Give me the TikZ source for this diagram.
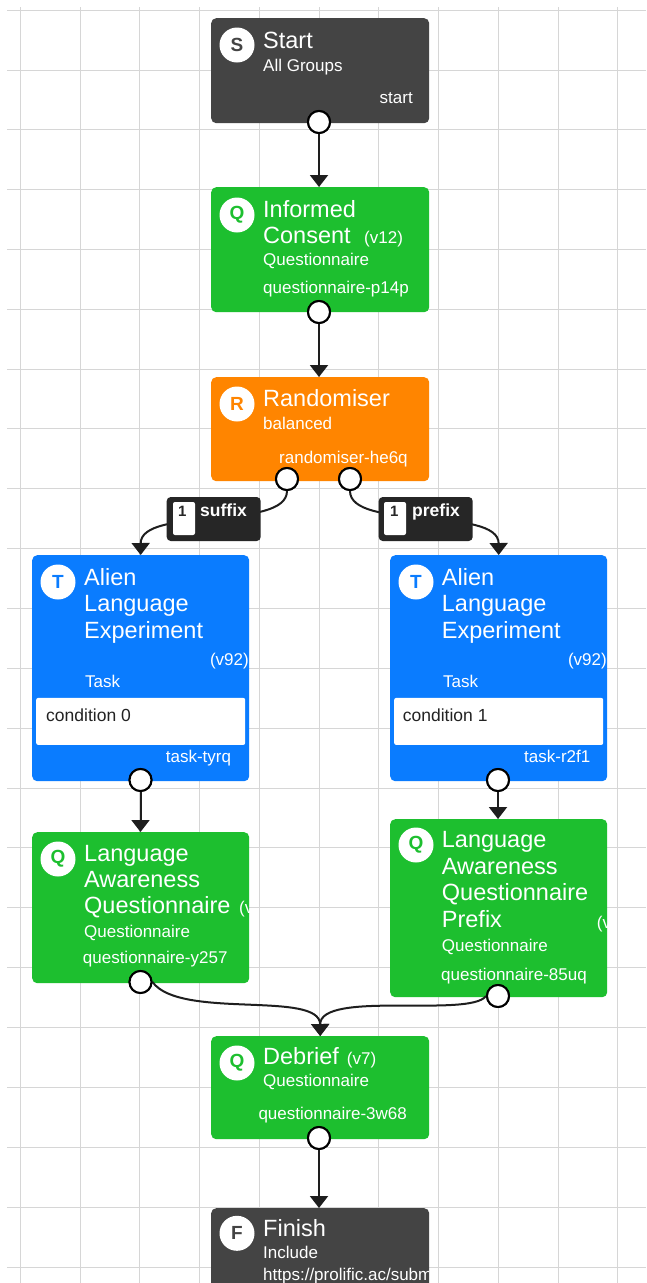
\documentclass[tikz,border=0pt]{standalone}
\usepackage{fontspec}
\setmainfont{Liberation Sans}
\usetikzlibrary{arrows.meta}
\definecolor{darkbox}{HTML}{444444}
\definecolor{greenbox}{HTML}{1DBF2F}
\definecolor{orangebox}{HTML}{FF8500}
\definecolor{bluebox}{HTML}{0A7CFF}
\definecolor{labelbox}{HTML}{262626}
\definecolor{gridc}{HTML}{D6D6D6}
\definecolor{conc}{HTML}{1E1E1E}
\definecolor{condtext}{HTML}{222222}
\tikzset{
 gridline/.style={draw=gridc, line width=1.2pt},
 card/.style={rectangle, rounded corners=5pt, inner sep=0pt, minimum width=218pt, anchor=north west},
 icon/.style={circle, fill=white, minimum size=35pt, inner sep=0pt, font=\bfseries\fontsize{19}{19}\selectfont},
 ttl/.style={anchor=base west, inner sep=0pt, text=white, font=\fontsize{23.5}{27}\selectfont},
 sml/.style={anchor=base west, inner sep=0pt, text=white, font=\fontsize{17}{20}\selectfont},
 smr/.style={anchor=base east, inner sep=0pt, text=white, font=\fontsize{17}{20}\selectfont},
 portc/.style={circle, draw=black, fill=white, line width=2pt, minimum size=22pt, inner sep=0pt},
 conn/.style={draw=conc, line width=2pt, -{Triangle[length=12pt,width=18pt]}},
 labeltag/.style={rectangle, rounded corners=4pt, fill=labelbox, minimum width=94pt, minimum height=44pt, inner sep=0pt},
 tagnum/.style={rectangle, rounded corners=2pt, fill=white, minimum width=22pt, minimum height=33pt, inner sep=0pt},
 tagone/.style={anchor=base west, inner sep=0pt, text=labelbox, font=\bfseries\fontsize{15}{17}\selectfont},
 tagtxt/.style={anchor=base west, inner sep=0pt, text=white, font=\bfseries\fontsize{17.5}{20}\selectfont},
 condbox/.style={rectangle, rounded corners=2pt, fill=white, inner sep=0pt, minimum width=209pt, minimum height=47pt, anchor=north west},
 condtxt/.style={anchor=base west, inner sep=0pt, text=condtext, font=\fontsize{17.5}{20}\selectfont},
}
\begin{document}
\begin{tikzpicture}[x=1pt,y=-1pt]
\useasboundingbox (0,0) rectangle (646,1283);
\clip (0,0) rectangle (646,1283);
\fill[white] (0,0) rectangle (646,1283);
% grid
\foreach \gx in {20.5,80.5,139.5,199.5,259.5,319.5,378.5,438.5,498.5,558.5,617.5}
  \draw[gridline] (\gx,7) -- (\gx,1283);
\foreach \gy in {10.5,70.5,129.5,189.5,249.5,309.5,369.5,428.5,488.5,548.5,608.5,668.5,728.5,788.5,847.5,907.5,967.5,1027.5,1087.5,1147.5,1207.5,1267.5}
  \draw[gridline] (7,\gy) -- (646,\gy);

% ---- Start
\node[card, fill=darkbox, minimum height=105pt] (start) at (211,18) {};
\node[icon, text=darkbox] (starti) at (237,45) {S};
\node[ttl] (startt) at (263,48) {Start};
\node[sml] (starts) at (263,71) {All Groups};
\node[smr] (startid) at (413,103) {start};

% ---- Informed consent
\node[card, fill=greenbox, minimum height=125pt] (consent) at (211,187) {};
\node[icon, text=greenbox] (consenti) at (237,215) {Q};
\node[ttl] (consentt1) at (263,217) {Informed};
\node[ttl] (consentt2) at (263,243) {Consent};
\node[sml] (consentv) at (364,243) {(v12)};
\node[sml] (consents) at (263,265) {Questionnaire};
\node[sml] (consentid) at (263,293) {questionnaire-p14p};

% ---- Randomiser
\node[card, fill=orangebox, minimum height=104pt] (rand) at (211,377) {};
\node[icon, text=orangebox] (randi) at (237,404) {R};
\node[ttl] (randt) at (263,406.7) {Randomiser};
\node[sml] (rands) at (263,429) {balanced};
\node[sml] (randid) at (279,463.3) {randomiser-he6q};

% ---- Alien left
\node[card, fill=bluebox, minimum width=217pt, minimum height=226pt] (alienL) at (32,555) {};
\node[icon, text=bluebox] (alienLi) at (58,582) {T};
\node[ttl] (alienLt1) at (84,585) {Alien};
\node[ttl] (alienLt2) at (84,611.7) {Language};
\node[ttl] (alienLt3) at (84,638.3) {Experiment};
\node[smr] (alienLv) at (249,665) {(v92)};
\node[sml] (alienLs) at (85,687.7) {Task};
\node[condbox] (alienLc) at (36,697.7) {};
\node[condtxt] (alienLct) at (46,721.7) {condition 0};
\node[sml] (alienLid) at (165.7,762.7) {task-tyrq};

% ---- Alien right
\node[card, fill=bluebox, minimum width=217pt, minimum height=226pt] (alienR) at (390,555) {};
\node[icon, text=bluebox] (alienRi) at (416,582) {T};
\node[ttl] (alienRt1) at (441.7,585) {Alien};
\node[ttl] (alienRt2) at (441.7,611.7) {Language};
\node[ttl] (alienRt3) at (441.7,638.3) {Experiment};
\node[smr] (alienRv) at (607,665) {(v92)};
\node[sml] (alienRs) at (443,687.7) {Task};
\node[condbox] (alienRc) at (394,697.7) {};
\node[condtxt] (alienRct) at (402.7,721.7) {condition 1};
\node[sml] (alienRid) at (524,762.7) {task-r2f1};

% ---- LAQ left
\node[card, fill=greenbox, minimum width=217pt, minimum height=151pt] (laqL) at (32,832) {};
\node[icon, text=greenbox] (laqLi) at (58,859) {Q};
\node[ttl] (laqLt1) at (84,861.7) {Language};
\node[ttl] (laqLt2) at (84,887.3) {Awareness};
\node[ttl] (laqLt3) at (84,913.3) {Questionnaire};
\begin{scope}
\clip[rounded corners=5pt] (32,832) rectangle (249,983);
\node[sml] (laqLv) at (239,913.3) {(v};
\end{scope}
\node[sml] (laqLs) at (84,937.3) {Questionnaire};
\node[sml] (laqLid) at (82.7,963.3) {questionnaire-y257};

% ---- LAQ right
\node[card, fill=greenbox, minimum width=217pt, minimum height=178pt] (laqR) at (390,819) {};
\node[icon, text=greenbox] (laqRi) at (416,845) {Q};
\node[ttl] (laqRt1) at (441.7,847.7) {Language};
\node[ttl] (laqRt2) at (441.7,874) {Awareness};
\node[ttl] (laqRt3) at (441.7,900.7) {Questionnaire};
\node[ttl] (laqRt4) at (441.7,927.7) {Prefix};
\begin{scope}
\clip[rounded corners=5pt] (390,819) rectangle (607,997);
\node[sml] (laqRv) at (596.7,928) {(v};
\end{scope}
\node[sml] (laqRs) at (441.7,951) {Questionnaire};
\node[sml] (laqRid) at (441,980) {questionnaire-85uq};

% ---- Debrief
\node[card, fill=greenbox, minimum height=103pt] (debrief) at (211,1036) {};
\node[icon, text=greenbox] (debriefi) at (237,1063) {Q};
\node[ttl] (debrieft) at (263,1064) {Debrief};
\node[sml] (debriefv) at (346.7,1064) {(v7)};
\node[sml] (debriefs) at (263,1086.7) {Questionnaire};
\node[sml] (debriefid) at (258.3,1119.3) {questionnaire-3w68};

% ---- Finish
\node[card, fill=darkbox, minimum height=110pt] (finish) at (211,1208) {};
\node[icon, text=darkbox] (finishi) at (237,1233.3) {F};
\node[ttl] (finisht) at (263,1236.7) {Finish};
\node[sml] (finishs) at (263,1258.3) {Include};
\begin{scope}
\clip (211,1208) rectangle (428,1300);
\node[sml] (finishurl) at (263,1280) {https://prolific.ac/subm};
\end{scope}

% ---- ports (positions)
\node[portc] (ps) at (319,122) {};
\node[portc] (pc) at (319,312) {};
\node[portc] (prl) at (287,479) {};
\node[portc] (prr) at (350,479) {};
\node[portc] (pal) at (140.5,780) {};
\node[portc] (par) at (498,780) {};
\node[portc] (pql) at (140.5,982) {};
\node[portc] (pqr) at (498,996) {};
\node[portc] (pd) at (319,1138) {};

% ---- connectors
\draw[conn] (ps.south) -- (ps.center |- consent.north);
\draw[conn] (pc.south) -- (pc.center |- rand.north);
\draw[conn] (prl.south) .. controls (287,531) and (140.5,506) .. (alienL.north);
\draw[conn] (prr.south) .. controls (350,531) and (498.5,506) .. (alienR.north);
\draw[conn] (pal.south) -- (pal.center |- laqL.north);
\draw[conn] (par.south) -- (par.center |- laqR.north);
\draw[conn] (pql.east) .. controls (180,1020) and (320,990) .. (debrief.north);
\draw[conn] (pqr.west) .. controls (470,1018) and (320,990) .. (debrief.north);
\draw[conn] (pd.south) -- (pd.center |- finish.north);

% redraw ports on top of connectors
\node[portc] (ps2) at (ps) {};
\node[portc] (pc2) at (pc) {};
\node[portc] (prl2) at (prl) {};
\node[portc] (prr2) at (prr) {};
\node[portc] (pal2) at (pal) {};
\node[portc] (par2) at (par) {};
\node[portc] (pql2) at (pql) {};
\node[portc] (pqr2) at (pqr) {};
\node[portc] (pd2) at (pd) {};

% ---- tags
\node[labeltag] (tagS) at (213.7,519) {};
\node[tagnum] (tagSn) at (184,518.5) {};
\node[tagone] (tagS1) at (178,516) {1};
\node[tagtxt] (tagSt) at (200,516) {suffix};
\node[labeltag] (tagP) at (425.7,519) {};
\node[tagnum] (tagPn) at (395,518.5) {};
\node[tagone] (tagP1) at (390,516) {1};
\node[tagtxt] (tagPt) at (412,516) {prefix};
\end{tikzpicture}
\end{document}
